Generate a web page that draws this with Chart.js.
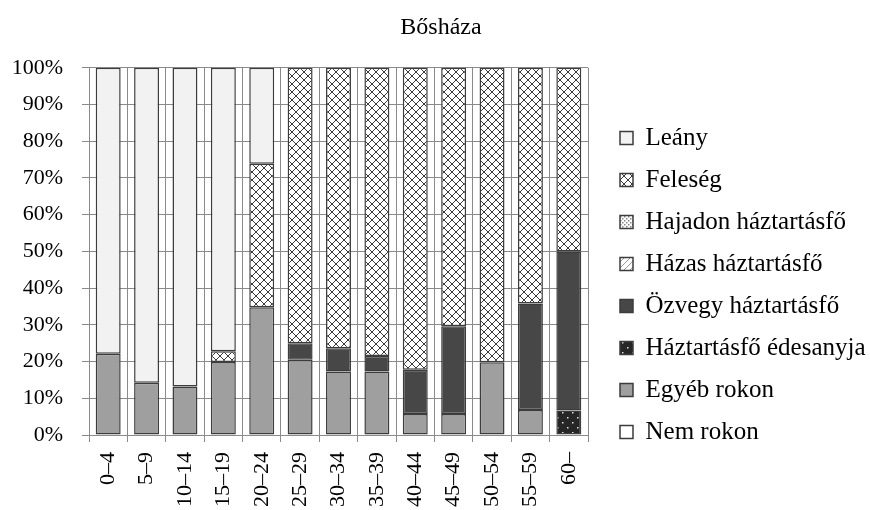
<!DOCTYPE html>
<html>
<head>
<meta charset="utf-8">
<script src="https://cdn.jsdelivr.net/npm/chart.js@4.4.1/dist/chart.umd.min.js"></script>
<style>
  body { margin: 0; background: #fff; }
  #wrap { width: 870px; height: 510px; }
</style>
</head>
<body>
<div id="wrap"><canvas id="myChart" width="870" height="510"></canvas></div>
<script>
var categories = ["0–4", "5–9", "10–14", "15–19", "20–24", "25–29", "30–34",
  "35–39", "40–44", "45–49", "50–54", "55–59", "60–"];

// shares in %, bottom of the stack first
var nemRokon  = [0, 0, 0, 0, 0, 0, 0, 0, 0, 0, 0, 0, 0];
var egyebRokon = [22.1, 14.2, 13.2, 19.9, 34.8, 20.5, 17.3, 17.3, 5.7, 5.7, 19.8, 6.8, 0];
var edesanyja = [0, 0, 0, 0, 0, 0, 0, 0, 0, 0, 0, 0, 6.7];
var ozvegy    = [0, 0, 0, 0, 0, 4.5, 6.3, 4.2, 12.1, 23.9, 0, 29.0, 43.3];
var hazas     = [0, 0, 0, 0, 0, 0, 0, 0, 0, 0, 0, 0, 0];
var hajadon   = [0, 0, 0, 0, 0, 0, 0, 0, 0, 0, 0, 0, 0];
var feleseg   = [0, 0, 0, 2.9, 39.1, 75.0, 76.4, 78.5, 82.2, 70.4, 80.2, 64.2, 50.0];
var leany     = [77.9, 85.8, 86.8, 77.2, 26.1, 0, 0, 0, 0, 0, 0, 0, 0];

var yTicks = [0, 10, 20, 30, 40, 50, 60, 70, 80, 90, 100];

var serif = '"Liberation Serif", "Times New Roman", serif';
var gridColor = "#8a8a8a";
var edge = "#3c3c3c";

function pattern(size, bg, draw) {
  var c = document.createElement("canvas");
  c.width = size;
  c.height = size;
  var g = c.getContext("2d");
  g.fillStyle = bg;
  g.fillRect(0, 0, size, size);
  draw(g, size);
  return g.createPattern(c, "repeat");
}

var crossHatch = pattern(8, "#ffffff", function (g, s) {
  g.strokeStyle = "#3a3a3a";
  g.lineWidth = 1;
  g.beginPath();
  g.moveTo(0, 0); g.lineTo(s, s);
  g.moveTo(s, 0); g.lineTo(0, s);
  g.stroke();
});
var diagHatch = pattern(6, "#ffffff", function (g, s) {
  g.strokeStyle = "#9a9a9a";
  g.lineWidth = 1;
  g.beginPath();
  g.moveTo(0, s); g.lineTo(s, 0);
  g.stroke();
});
var dotGrid = pattern(4, "#ffffff", function (g) {
  g.fillStyle = "#8a8a8a";
  g.fillRect(0, 0, 1.5, 1.5);
  g.fillRect(2, 2, 1.5, 1.5);
});
var darkDots = pattern(10, "#262626", function (g) {
  g.fillStyle = "#e0e0e0";
  g.fillRect(2, 2, 1.5, 1.5);
  g.fillRect(7, 7, 1.5, 1.5);
});

function nz(arr) {
  return arr.map(function (v) { return v === 0 ? null : v; });
}

function ds(label, values, fill) {
  return {
    label: label,
    data: nz(values),
    backgroundColor: fill,
    borderColor: edge,
    borderWidth: 1.5,
    borderSkipped: false,
    categoryPercentage: 1,
    barPercentage: 0.65
  };
}

var datasets = [
  ds("Nem rokon", nemRokon, "#ffffff"),
  ds("Egyéb rokon", egyebRokon, "#9f9f9f"),
  ds("Háztartásfő édesanyja", edesanyja, darkDots),
  ds("Özvegy háztartásfő", ozvegy, "#474747"),
  ds("Házas háztartásfő", hazas, diagHatch),
  ds("Hajadon háztartásfő", hajadon, dotGrid),
  ds("Feleség", feleseg, crossHatch),
  ds("Leány", leany, "#f2f2f2")
];

Chart.defaults.font.family = serif;
Chart.defaults.color = "#000";

new Chart(document.getElementById("myChart").getContext("2d"), {
  type: "bar",
  data: { labels: categories, datasets: datasets },
  options: {
    responsive: false,
    animation: false,
    layout: { padding: { left: 12, right: 0, top: 0, bottom: 0 } },
    plugins: {
      title: {
        display: true,
        text: "Bősháza",
        color: "#000",
        font: { family: serif, size: 24, weight: "normal" },
        padding: { top: 13, bottom: 26 }
      },
      legend: {
        position: "right",
        reverse: true,
        maxWidth: 267,
        title: {
          // empty title only pushes the entries down
          display: true,
          text: "",
          font: { size: 10 },
          padding: { top: 48, bottom: 0 }
        },
        labels: {
          boxWidth: 13,
          boxHeight: 13,
          padding: 17,
          color: "#000",
          font: { family: serif, size: 25 }
        }
      },
      tooltip: { enabled: false }
    },
    scales: {
      x: {
        stacked: true,
        grid: { color: gridColor, lineWidth: 1, tickLength: 7, offset: true },
        border: { color: gridColor },
        ticks: {
          autoSkip: false,
          minRotation: 90,
          maxRotation: 90,
          padding: 10,
          color: "#000",
          font: { family: serif, size: 22 }
        },
        afterFit: function (s) { s.height = 75; }
      },
      y: {
        stacked: true,
        min: 0,
        max: 100,
        afterBuildTicks: function (s) {
          s.ticks = yTicks.map(function (v) { return { value: v }; });
        },
        grid: { color: gridColor, lineWidth: 1, tickLength: 7 },
        border: { color: gridColor },
        ticks: {
          padding: 19,
          color: "#000",
          font: { family: serif, size: 22 },
          callback: function (v) { return v + "%"; }
        },
        afterFit: function (s) { s.width = 77; }
      },
      gap: {
        position: "right",
        display: true,
        grid: { display: false },
        border: { display: false },
        ticks: { display: false },
        afterFit: function (s) { s.width = 15; }
      }
    }
  }
});
</script>
</body>
</html>
